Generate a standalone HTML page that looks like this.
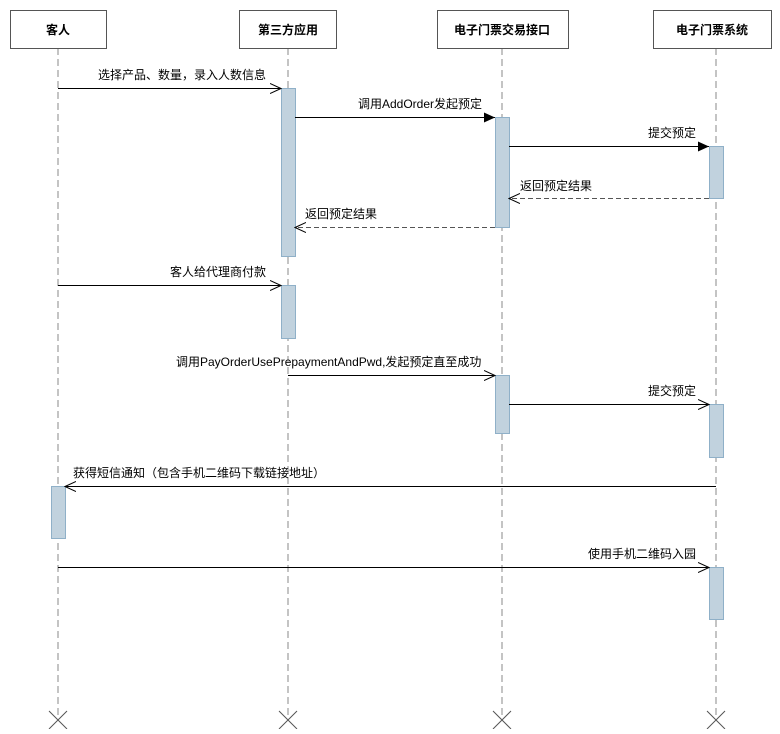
<!DOCTYPE html>
<html><head><meta charset="utf-8"><style>
html,body{margin:0;padding:0;background:#fff;}
svg text{font-family:"Liberation Sans","Noto Sans CJK SC",sans-serif;font-size:12px;fill:#000;}
</style></head><body>
<svg width="780" height="729" viewBox="0 0 780 729" xmlns="http://www.w3.org/2000/svg">
<defs>
<marker id="open" markerWidth="12" markerHeight="12" refX="11" refY="6" orient="auto" markerUnits="userSpaceOnUse">
<path d="M0,1 L11,6 L0,11" fill="none" stroke="#000" stroke-width="1"/></marker>
<marker id="fill" markerWidth="12" markerHeight="12" refX="11" refY="6" orient="auto" markerUnits="userSpaceOnUse">
<path d="M0,1 L11,6 L0,11 Z" fill="#000"/></marker>
</defs>
<g stroke="#b0b0b0" stroke-width="1.5" stroke-dasharray="7,4">
<line x1="58" y1="48" x2="58" y2="717"/>
<line x1="288" y1="48" x2="288" y2="717"/>
<line x1="502" y1="48" x2="502" y2="717"/>
<line x1="716" y1="48" x2="716" y2="717"/>
</g>
<g stroke="#555" stroke-width="1">
<path d="M49,711 L67,729 M67,711 L49,729"/>
<path d="M279,711 L297,729 M297,711 L279,729"/>
<path d="M493,711 L511,729 M511,711 L493,729"/>
<path d="M707,711 L725,729 M725,711 L707,729"/>
</g>
<g fill="#fff" stroke="#555" stroke-width="1">
<rect x="10.5" y="10.5" width="96" height="38"/>
<rect x="239.5" y="10.5" width="97" height="38"/>
<rect x="437.5" y="10.5" width="131" height="38"/>
<rect x="653.5" y="10.5" width="118" height="38"/>
</g>
<g font-weight="bold" text-anchor="middle">
<text x="58" y="34" font-weight="bold">客人</text>
<text x="288" y="34" font-weight="bold">第三方应用</text>
<text x="502" y="34" font-weight="bold">电子门票交易接口</text>
<text x="712" y="34" font-weight="bold">电子门票系统</text>
</g>
<g fill="#c1d2de" stroke="#8fb0c8" stroke-width="1">
<rect x="281.5" y="88.5" width="14" height="168"/>
<rect x="495.5" y="117.5" width="14" height="110"/>
<rect x="709.5" y="146.5" width="14" height="52"/>
<rect x="281.5" y="285.5" width="14" height="53"/>
<rect x="495.5" y="375.5" width="14" height="58"/>
<rect x="709.5" y="404.5" width="14" height="53"/>
<rect x="51.5" y="486.5" width="14" height="52"/>
<rect x="709.5" y="567.5" width="14" height="52"/>
</g>
<g stroke="#000" stroke-width="1">
<line x1="58" y1="88.5" x2="281" y2="88.5" marker-end="url(#open)"/>
<line x1="295" y1="117.5" x2="495" y2="117.5" marker-end="url(#fill)"/>
<line x1="509" y1="146.5" x2="709" y2="146.5" marker-end="url(#fill)"/>
<line x1="709" y1="198.5" x2="509" y2="198.5" stroke="#555" stroke-dasharray="5,3" marker-end="url(#open)"/>
<line x1="495" y1="227.5" x2="295" y2="227.5" stroke="#555" stroke-dasharray="5,3" marker-end="url(#open)"/>
<line x1="58" y1="285.5" x2="281" y2="285.5" marker-end="url(#open)"/>
<line x1="288" y1="375.5" x2="495" y2="375.5" marker-end="url(#open)"/>
<line x1="509" y1="404.5" x2="709" y2="404.5" marker-end="url(#open)"/>
<line x1="716" y1="486.5" x2="65" y2="486.5" marker-end="url(#open)"/>
<line x1="58" y1="567.5" x2="709" y2="567.5" marker-end="url(#open)"/>
</g>
<text x="266" y="79" text-anchor="end">选择产品、数量，录入人数信息</text>
<text x="482" y="108" text-anchor="end">调用AddOrder发起预定</text>
<text x="696" y="137" text-anchor="end">提交预定</text>
<text x="520" y="190">返回预定结果</text>
<text x="305" y="218">返回预定结果</text>
<text x="266" y="276" text-anchor="end">客人给代理商付款</text>
<text x="176" y="366">调用PayOrderUsePrepaymentAndPwd,发起预定直至成功</text>
<text x="696" y="395" text-anchor="end">提交预定</text>
<text x="73" y="477">获得短信通知（包含手机二维码下载链接地址）</text>
<text x="696" y="558" text-anchor="end">使用手机二维码入园</text>
</svg>
</body></html>
